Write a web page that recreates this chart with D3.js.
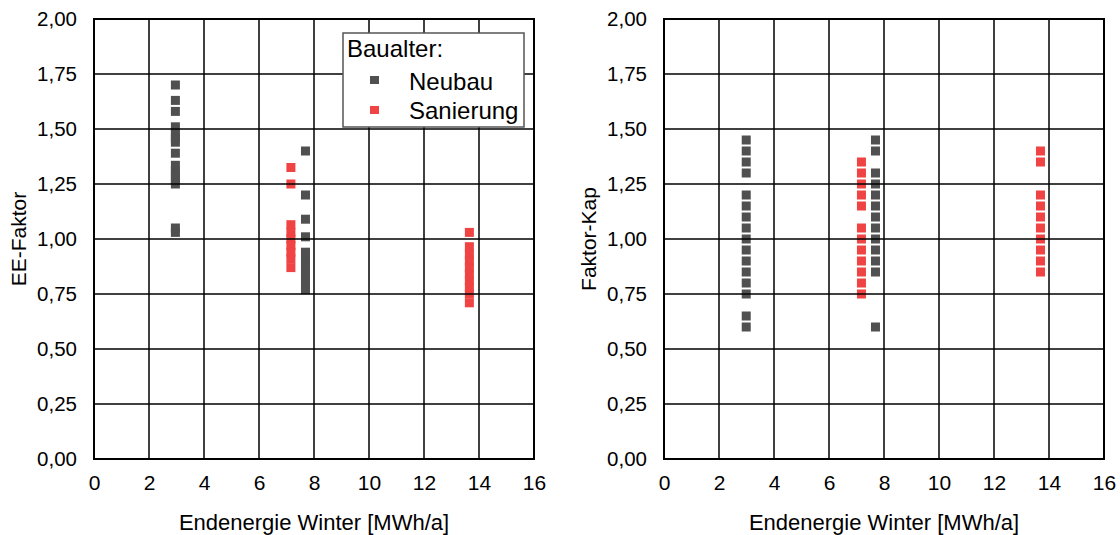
<!DOCTYPE html>
<html><head><meta charset="utf-8">
<script src="https://cdn.jsdelivr.net/npm/d3@7"></script>
<style>
html,body{margin:0;padding:0;background:#fff;}
svg{display:block;font-family:"Liberation Sans",Arial,sans-serif;}
</style></head>
<body><svg id="c" width="1120" height="535"></svg>
<script>
// ---- data ----
const xTicks = [0,2,4,6,8,10,12,14,16];
const yTicks = [0,0.25,0.5,0.75,1,1.25,1.5,1.75,2];
const yTickLabels = ["0,00","0,25","0,50","0,75","1,00","1,25","1,50","1,75","2,00"];
const xTitle = "Endenergie Winter [MWh/a]";
const legendTitle = "Baualter:";
const seriesNames = ["Neubau","Sanierung"];
const seriesColors = ["#505050","#f04343"];

// EE-Faktor (left)
const eeNeubauX = [2.96, 7.69];
const eeNeubauY = [
  [1.70,1.63,1.58,1.51,1.48,1.46,1.44,1.39,1.335,1.31,1.29,1.27,1.25,1.05,1.03],
  [1.40,1.20,1.09,1.01,0.94,0.91,0.88,0.85,0.82,0.79,0.77]
];
const eeSanX = [7.16, 13.65];
const eeSanY = [
  [1.325,1.25,1.065,1.03,1.00,0.97,0.94,0.91,0.87],
  [1.03,0.965,0.93,0.90,0.87,0.84,0.81,0.78,0.75,0.71]
];
// Faktor-Kap (right)
const kapNeubauX = [2.99, 7.69];
const kapNeubauY = [
  [1.45,1.40,1.35,1.30,1.20,1.15,1.10,1.05,1.00,0.95,0.90,0.85,0.80,0.75,0.65,0.60],
  [1.45,1.40,1.30,1.25,1.20,1.15,1.10,1.05,1.00,0.95,0.90,0.85,0.60]
];
const kapSanX = [7.18, 13.69];
const kapSanY = [
  [1.35,1.30,1.25,1.20,1.15,1.05,1.00,0.95,0.90,0.85,0.80,0.75],
  [1.40,1.35,1.20,1.15,1.10,1.05,1.00,0.95,0.90,0.85]
];

function toPts(xs, ys){ const out=[]; xs.forEach((x,i)=>ys[i].forEach(y=>out.push([x,y]))); return out; }

const panels = [
  {left:94, yTitle:"EE-Faktor", series:[toPts(eeNeubauX,eeNeubauY), toPts(eeSanX,eeSanY)], legend:true},
  {left:664, yTitle:"Faktor-Kap", series:[toPts(kapNeubauX,kapNeubauY), toPts(kapSanX,kapSanY)], legend:false}
];

const svg = d3.select("#c");
const W = 440, H = 440, plotTop = 19, ms = 9;

panels.forEach(p=>{
  const g = svg.append("g").attr("transform",`translate(${p.left},${plotTop})`);
  const x = d3.scaleLinear().domain([0,16]).range([0,W]);
  const y = d3.scaleLinear().domain([0,2]).range([H,0]);

  // markers
  p.series.forEach((pts,si)=>{
    g.append("g").selectAll("rect").data(pts).join("rect")
      .attr("x",d=>x(d[0])-ms/2).attr("y",d=>y(d[1])-ms/2)
      .attr("width",ms).attr("height",ms).attr("fill",seriesColors[si]);
  });

  // grid on top
  const grid = g.append("g").attr("stroke","#000").attr("stroke-width",1.5);
  grid.selectAll("line.v").data(xTicks.slice(1,-1)).join("line").attr("class","v")
    .attr("x1",d=>x(d)).attr("x2",d=>x(d)).attr("y1",0).attr("y2",H);
  grid.selectAll("line.h").data(yTicks.slice(1,-1)).join("line").attr("class","h")
    .attr("y1",d=>y(d)).attr("y2",d=>y(d)).attr("x1",0).attr("x2",W);
  g.append("rect").attr("width",W).attr("height",H).attr("fill","none")
    .attr("stroke","#000").attr("stroke-width",2);

  // axes (labels only)
  const xa = g.append("g").attr("transform",`translate(0,${H})`)
    .call(d3.axisBottom(x).tickValues(xTicks).tickSize(0).tickPadding(16).tickFormat(d3.format("d")));
  xa.select(".domain").remove();
  xa.selectAll("text").attr("font-size",21).attr("fill","#000").attr("font-family","Liberation Sans, Arial, sans-serif");

  const ya = g.append("g")
    .call(d3.axisLeft(y).tickValues(yTicks).tickSize(0).tickPadding(17).tickFormat((d,i)=>yTickLabels[i]));
  ya.select(".domain").remove();
  ya.selectAll("text").attr("font-size",20.5).attr("fill","#000").attr("font-family","Liberation Sans, Arial, sans-serif");

  g.append("text").attr("x",W/2).attr("y",H+71).attr("text-anchor","middle")
    .attr("font-size",22).attr("fill","#000").text(xTitle);
  g.append("text").attr("transform",`translate(${-74},${H/2}) rotate(-90)`)
    .attr("text-anchor","middle").attr("dominant-baseline","middle")
    .attr("font-size",21).attr("fill","#000").text(p.yTitle);

  if(p.legend){
    const lg = svg.append("g").attr("transform","translate(343,33)");
    lg.append("rect").attr("width",181).attr("height",94).attr("fill","#fff")
      .attr("stroke","#555").attr("stroke-width",1.5);
    lg.append("text").attr("x",4).attr("y",24).attr("font-size",24).attr("fill","#000").text(legendTitle);
    seriesNames.forEach((n,i)=>{
      lg.append("rect").attr("x",27).attr("y",43+i*30).attr("width",9).attr("height",8).attr("fill",seriesColors[i]);
      lg.append("text").attr("x",66).attr("y",57+i*28.5).attr("font-size",24).attr("fill","#000").text(n);
    });
  }
});
</script></body></html>
